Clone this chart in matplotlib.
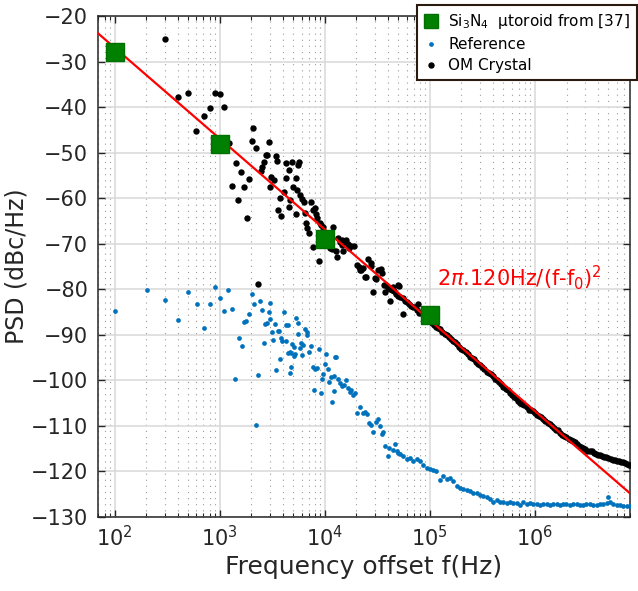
import numpy as np
import matplotlib
matplotlib.use("Agg")
import matplotlib.pyplot as plt
from matplotlib.ticker import LogLocator, NullFormatter

# --- data (x as log10 of frequency offset) ---
toroid_logf = [2.0, 3.0, 4.0, 5.0]
toroid_psd = [-27.8, -48.1, -69.0, -85.6]

fit_logf = [1.841, 6.905]
fit_psd = [-23.8, -124.8]

ref_logf = [
    2.003, 2.305, 2.483, 2.603, 2.702, 2.781, 2.848, 2.905, 2.959, 3.003,
    3.045, 3.083, 3.117, 3.149, 3.181, 3.210, 3.232, 3.254, 3.283, 3.305,
    3.324, 3.346, 3.365, 3.384, 3.400, 3.419, 3.435, 3.454, 3.467, 3.480,
    3.482, 3.495, 3.508, 3.524, 3.536, 3.550, 3.562, 3.571, 3.581, 3.597,
    3.616, 3.629, 3.635, 3.650, 3.654, 3.664, 3.673, 3.676, 3.680, 3.692,
    3.705, 3.708, 3.717, 3.727, 3.740, 3.749, 3.762, 3.774, 3.784, 3.793,
    3.812, 3.826, 3.835, 3.848, 3.867, 3.883, 3.895, 3.908, 3.927, 3.940,
    3.959, 3.971, 3.984, 4.000, 4.010, 4.029, 4.041, 4.060, 4.073, 4.086,
    4.092, 4.099, 4.111, 4.127, 4.143, 4.162, 4.181, 4.200, 4.222, 4.238,
    4.254, 4.270, 4.286, 4.311, 4.333, 4.359, 4.381, 4.397, 4.416, 4.435,
    4.454, 4.486, 4.508, 4.524, 4.540, 4.556, 4.574, 4.597, 4.612, 4.645,
    4.667, 4.683, 4.698, 4.714, 4.746, 4.778, 4.810, 4.841, 4.873, 4.905,
    4.936, 4.968, 5.000, 5.032, 5.063, 5.095, 5.127, 5.159, 5.190, 5.222,
    5.254, 5.286, 5.317, 5.349, 5.381, 5.413, 5.444, 5.476, 5.508, 5.540,
    5.571, 5.603, 5.635, 5.667, 5.698, 5.730, 5.762, 5.794, 5.825, 5.857,
    5.889, 5.920, 5.952, 5.984, 6.016, 6.048, 6.079, 6.111, 6.143, 6.175,
    6.206, 6.238, 6.270, 6.300, 6.333, 6.365, 6.397, 6.430, 6.460, 6.490,
    6.524, 6.555, 6.587, 6.620, 6.651, 6.682, 6.698, 6.714, 6.746, 6.778,
    6.810, 6.841, 6.873, 6.905,
]
ref_psd = [
    -84.8, -80.2, -82.3, -86.8, -80.6, -83.2, -88.4, -83.2, -79.4, -82.0,
    -84.7, -80.1, -84.4, -99.7, -90.8, -92.5, -87.2, -86.9, -85.5, -81.0,
    -83.2, -109.9, -98.8, -82.6, -84.6, -91.7, -87.6, -87.5, -85.0, -83.1,
    -86.6, -89.3, -91.1, -87.6, -97.7, -89.1, -89.1, -95.4, -90.6, -91.3,
    -85.0, -87.8, -91.3, -87.8, -93.9, -98.3, -93.7, -97.1, -94.1, -92.0,
    -92.7, -94.6, -94.2, -86.3, -87.3, -89.8, -92.8, -91.7, -94.4, -92.2,
    -88.8, -89.3, -90.0, -93.7, -92.4, -97.1, -102.1, -97.4, -97.2, -93.2,
    -102.7, -99.8, -98.5, -96.3, -94.2, -97.4, -100.3, -99.2, -104.8, -102.3,
    -99.0, -94.9, -94.8, -99.8, -100.6, -101.2, -101.0, -99.9, -101.7, -102.5,
    -102.1, -103.2, -102.7, -107.2, -105.9, -107.1, -106.9, -107.4, -109.4, -109.8,
    -111.3, -109.1, -108.5, -110.0, -111.8, -111.3, -114.4, -116.6, -114.9, -115.3,
    -114.0, -115.6, -115.9, -116.2, -116.7, -117.3, -117.1, -117.6, -117.3, -117.6,
    -118.6, -119.3, -119.5, -119.7, -120.0, -121.9, -121.1, -121.7, -121.5, -122.2,
    -123.3, -123.7, -123.9, -124.1, -124.4, -124.7, -124.8, -125.2, -125.3, -125.5,
    -126.1, -126.6, -126.3, -126.6, -126.8, -127.0, -126.6, -127.0, -127.0, -127.4,
    -126.6, -127.1, -127.0, -127.2, -127.1, -127.3, -127.1, -127.2, -127.3, -127.1,
    -127.1, -127.3, -127.1, -127.2, -127.3, -127.1, -127.2, -127.3, -127.3, -127.2,
    -127.2, -127.3, -127.3, -127.2, -127.2, -127.0, -125.5, -126.6, -127.1, -127.3,
    -127.4, -127.5, -127.6, -127.6,
]

om_logf = [
    2.483, 2.603, 2.700, 2.778, 2.848, 2.905, 2.955, 3.003, 3.045, 3.086,
    3.117, 3.150, 3.178, 3.206, 3.232, 3.257, 3.283, 3.305, 3.321, 3.346,
    3.368, 3.390, 3.406, 3.419, 3.438, 3.448, 3.467, 3.480, 3.492, 3.517,
    3.533, 3.545, 3.559, 3.571, 3.584, 3.612, 3.628, 3.635, 3.657, 3.660,
    3.673, 3.686, 3.698, 3.721, 3.727, 3.737, 3.746, 3.756, 3.762, 3.784,
    3.803, 3.810, 3.822, 3.832, 3.848, 3.870, 3.883, 3.889, 3.908, 3.918,
    3.927, 3.940, 3.952, 3.965, 3.978, 4.048, 4.057, 4.073, 4.082, 4.105,
    4.114, 4.130, 4.145, 4.159, 4.168, 4.175, 4.190, 4.206, 4.225, 4.232,
    4.253, 4.276, 4.308, 4.327, 4.333, 4.349, 4.365, 4.384, 4.390, 4.415,
    4.435, 4.444, 4.463, 4.476, 4.486, 4.508, 4.533, 4.540, 4.562, 4.574,
    4.587, 4.603, 4.625, 4.650, 4.698, 4.708, 4.746, 4.889,
    4.60, 4.62, 4.64, 4.66, 4.68, 4.70, 4.72, 4.74, 4.76, 4.78,
    4.80, 4.82, 4.84, 4.86, 4.88, 4.90, 4.92, 4.94, 4.96, 4.98,
    5.00, 5.02, 5.04, 5.06, 5.08, 5.10, 5.12, 5.14, 5.16, 5.18,
    5.20, 5.22, 5.24, 5.26, 5.28, 5.30, 5.32, 5.34, 5.36, 5.38,
    5.40, 5.42, 5.44, 5.46, 5.48, 5.50, 5.52, 5.54, 5.56, 5.58,
    5.60, 5.62, 5.64, 5.66, 5.68, 5.70, 5.72, 5.74, 5.76, 5.78,
    5.80, 5.82, 5.84, 5.86, 5.88, 5.90, 5.92, 5.94, 5.96, 5.98,
    6.00, 6.02, 6.04, 6.06, 6.08, 6.10, 6.12, 6.14, 6.16, 6.18,
    6.20, 6.22, 6.24, 6.26, 6.28, 6.30, 6.32, 6.34, 6.36, 6.38,
    6.40, 6.42, 6.44, 6.46, 6.48, 6.50, 6.52, 6.54, 6.56, 6.58,
    6.60, 6.62, 6.64, 6.66, 6.68, 6.70, 6.72, 6.74, 6.76, 6.78,
    6.80, 6.82, 6.84, 6.86, 6.88, 6.90, 6.91,
]
om_psd = [
    -25.0, -37.8, -36.8, -45.2, -42.0, -40.1, -36.8, -37.1, -40.0, -47.8,
    -57.3, -52.3, -60.4, -54.2, -57.5, -64.4, -55.7, -47.4, -44.5, -49.0,
    -78.8, -54.0, -53.1, -52.1, -50.6, -50.5, -47.7, -57.5, -55.3, -56.0,
    -50.7, -51.8, -62.7, -60.0, -63.9, -58.7, -55.6, -52.3, -53.8, -62.0,
    -60.4, -52.1, -57.5, -55.5, -63.5, -58.2, -52.7, -52.1, -59.4, -60.2,
    -60.8, -63.3, -65.5, -66.6, -67.7, -60.9, -70.8, -62.6, -62.2, -63.5,
    -64.4, -73.8, -65.4, -65.8, -66.3, -71.0, -68.2, -71.2, -66.4, -71.7,
    -73.0, -68.7, -69.6, -70.3, -69.2, -71.5, -69.5, -69.2, -70.0, -71.0,
    -70.5, -70.6, -74.7, -75.2, -75.8, -75.8, -75.4, -77.4, -77.4, -73.3,
    -74.3, -74.9, -80.5, -77.6, -77.7, -75.8, -75.5, -76.5, -79.1, -80.7,
    -79.1, -79.4, -82.5, -79.4, -79.1, -79.3, -85.4, -83.2,
    -79.5, -80.0, -80.2, -80.4, -81.0, -81.5, -81.6, -81.9, -82.5, -82.8,
    -83.2, -83.6, -83.8, -84.0, -84.6, -85.1, -85.3, -85.6, -86.2, -86.7,
    -87.0, -87.3, -87.8, -88.3, -88.6, -88.8, -89.3, -89.8, -90.1, -90.4,
    -91.0, -91.4, -91.6, -92.0, -92.6, -93.1, -93.4, -93.7, -94.2, -94.8,
    -95.1, -95.4, -95.9, -96.4, -96.7, -97.0, -97.6, -98.1, -98.3, -98.6,
    -99.0, -99.6, -99.9, -100.3, -100.9, -101.5, -101.9, -102.2, -102.7, -103.3,
    -103.6, -103.9, -104.5, -105.0, -105.2, -105.5, -105.9, -106.4, -106.6, -106.8,
    -107.2, -107.7, -107.9, -108.1, -108.5, -109.0, -109.3, -109.6, -110.1, -110.5,
    -110.8, -111.0, -111.5, -111.9, -112.2, -112.4, -112.8, -113.2, -113.4, -113.6,
    -114.0, -114.4, -114.6, -114.8, -115.1, -115.4, -115.5, -115.6, -115.9, -116.2,
    -116.3, -116.4, -116.6, -116.8, -116.9, -117.0, -117.2, -117.4, -117.5, -117.6,
    -117.8, -117.9, -118.0, -118.1, -118.3, -118.5, -118.6,
]

plt.rcParams['font.family'] = ['DejaVu Sans']
txt = '#262626'

fig = plt.figure(figsize=(6.38, 5.91), dpi=100)
ax = fig.add_axes([98 / 638, 74 / 591, 532 / 638, 501 / 591])

ax.plot(np.power(10.0, ref_logf), ref_psd, 'o', color='#0072BD', ms=3.4,
        mec='none', label='Reference', zorder=3)
ax.plot(np.power(10.0, om_logf), om_psd, 'o', color='black', ms=4.6,
        mec='none', label='OM Crystal', zorder=4)
ax.plot(np.power(10.0, fit_logf), fit_psd, '-', color='red', lw=1.6, zorder=5)
ax.plot(np.power(10.0, toroid_logf), toroid_psd, 's', color='#008000', ms=13,
        mec='#007000', label='Si$_3$N$_4$  \u00b5toroid from [37]', zorder=6)

ax.set_xscale('log')
ax.set_xlim(10 ** 1.841, 10 ** 6.905)
ax.set_ylim(-130, -20)
ax.set_yticks(np.arange(-130, -19, 10))
ax.xaxis.set_major_locator(LogLocator(base=10, numticks=10))
ax.xaxis.set_minor_locator(LogLocator(base=10, subs=np.arange(2, 10), numticks=20))
ax.xaxis.set_minor_formatter(NullFormatter())

ax.grid(True, which='major', color='#d9d9d9', lw=1.1, ls='-', zorder=0)
ax.grid(True, which='minor', axis='x', color='#9a9a9a', lw=0.8,
        ls=(0, (1, 4.5)), zorder=0)
ax.set_axisbelow(True)

ax.tick_params(which='both', direction='in', top=True, right=True,
               colors=txt, labelsize=15)
ax.tick_params(which='major', length=5, width=1.0)
ax.tick_params(which='minor', length=3, width=0.8)
ax.tick_params(axis='y', pad=7)
ax.tick_params(axis='x', pad=6)
for s in ax.spines.values():
    s.set_color(txt)
    s.set_linewidth(1.1)

ax.set_xlabel('Frequency offset f(Hz)', fontsize=18, color=txt, labelpad=3)
ax.set_ylabel('PSD (dBc/Hz)', fontsize=17, color=txt, labelpad=2)

ax.text(10 ** 5.067, -79.1, r'2$\pi$.120Hz/(f-f$_0$)$^2$', color='red',
        fontsize=15, ha='left', va='baseline', zorder=7)

# legend: toroid first, sits over the top right corner like the original
handles, labels = ax.get_legend_handles_labels()
order = [2, 0, 1]
leg = ax.legend([handles[i] for i in order], [labels[i] for i in order],
                loc='upper right', bbox_to_anchor=(637 / 638, 1 - 5 / 591),
                bbox_transform=fig.transFigure, borderaxespad=0,
                fontsize=11, fancybox=False, framealpha=1, edgecolor='#2a1a10',
                handlelength=1.0, handletextpad=0.6, borderpad=0.45,
                labelspacing=0.4, markerscale=1.0)
leg.get_frame().set_linewidth(1.5)
leg.legend_handles[0].set_markersize(10)
leg.set_zorder(10)

fig.savefig('out.png', dpi=100)
